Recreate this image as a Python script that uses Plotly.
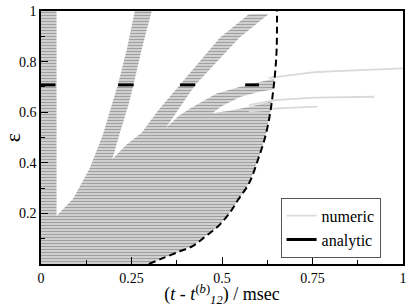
import plotly.graph_objects as go

# ---------------- data ----------------
# outline of the grey "numeric" region (x = t - t12 in msec, y = epsilon)
numeric_region_x = [0, 0, 0.043, 0.043,
                    0.089, 0.134, 0.170, 0.197, 0.213, 0.237, 0.259,
                    0.306,
                    0.278, 0.256, 0.243, 0.218, 0.197,
                    0.235, 0.278, 0.324, 0.383, 0.44, 0.494, 0.575,
                    0.629,
                    0.548, 0.488, 0.426, 0.378, 0.345,
                    0.38, 0.413, 0.485, 0.548, 0.602, 0.645,
                    0.641, 0.60, 0.55, 0.50, 0.473,
                    0.52, 0.57, 0.61, 0.637,
                    0.633, 0.62, 0.60, 0.575, 0.545, 0.52, 0.49, 0.455, 0.42, 0.38, 0.335, 0.298]
numeric_region_y = [0, 1, 1, 0.19,
                    0.259, 0.376, 0.507, 0.635, 0.712, 0.848, 1.0,
                    1.0,
                    0.848, 0.712, 0.635, 0.519, 0.414,
                    0.47, 0.519, 0.608, 0.708, 0.801, 0.894, 0.988,
                    0.988,
                    0.894, 0.801, 0.708, 0.608, 0.538,
                    0.585, 0.616, 0.674, 0.700, 0.718, 0.733,
                    0.69, 0.68, 0.66, 0.625, 0.596,
                    0.606, 0.62, 0.632, 0.642,
                    0.596, 0.506, 0.415, 0.32, 0.255, 0.2, 0.15, 0.11, 0.072, 0.048, 0.022, 0]

# thin numeric curves continuing to the right of the analytic boundary
numeric_curve1_x = [0.629, 0.647, 0.710, 0.755, 0.80, 0.89, 1.0]
numeric_curve1_y = [0.736, 0.739, 0.751, 0.758, 0.761, 0.767, 0.773]
numeric_curve2_x = [0.574, 0.629, 0.647, 0.755, 0.921]
numeric_curve2_y = [0.628, 0.645, 0.648, 0.658, 0.661]
numeric_curve3_x = [0.574, 0.629, 0.638, 0.700, 0.764]
numeric_curve3_y = [0.603, 0.609, 0.614, 0.619, 0.622]

# analytic results
analytic_eps = 0.708
analytic_seg_start = [0.0, 0.213, 0.384, 0.564]
analytic_seg_end = [0.040, 0.256, 0.426, 0.602]
analytic_curve_x = [0.298, 0.335, 0.38, 0.42, 0.455, 0.49, 0.52, 0.545, 0.575, 0.60,
                    0.62, 0.633, 0.641, 0.647, 0.651, 0.652]
analytic_curve_y = [0.0, 0.022, 0.048, 0.072, 0.11, 0.15, 0.2, 0.255, 0.32, 0.415,
                    0.506, 0.596, 0.68, 0.76, 0.85, 1.0]

x_ticks = [0, 0.25, 0.5, 0.75, 1]
x_ticklabels = ["0", "0.25", "0.5", "0.75", "1"]
x_minor = [0.125, 0.375, 0.625, 0.875]
y_ticks = [0.2, 0.4, 0.6, 0.8, 1]
y_ticklabels = ["0.2", "0.4", "0.6", "0.8", "1"]
y_minor = [0.1, 0.3, 0.5, 0.7, 0.9]

# ---------------- figure ----------------
SERIF = "Liberation Serif"
NUM_COLOR = "#d9d9d9"
TICKFONT = dict(family=SERIF, size=14, color="black")

fig = go.Figure()

fig.add_trace(go.Scatter(
    x=numeric_region_x, y=numeric_region_y, mode="lines", fill="toself",
    line=dict(width=0, color="rgba(0,0,0,0)"),
    fillcolor="#cfcfcf",
    fillpattern=dict(shape="-", fgcolor="#a0a0a0", bgcolor="#d0d0d0",
                     size=3, solidity=0.33, fillmode="replace"),
    showlegend=False, hoverinfo="skip"))

for i, (cx, cy) in enumerate([(numeric_curve1_x, numeric_curve1_y),
                              (numeric_curve2_x, numeric_curve2_y),
                              (numeric_curve3_x, numeric_curve3_y)]):
    fig.add_trace(go.Scatter(
        x=cx, y=cy, mode="lines", line=dict(color=NUM_COLOR, width=1.8),
        name="numeric", showlegend=(i == 0), legendgroup="numeric"))

seg_x, seg_y = [], []
for s, e in zip(analytic_seg_start, analytic_seg_end):
    seg_x += [s, e, None]
    seg_y += [analytic_eps, analytic_eps, None]
fig.add_trace(go.Scatter(x=seg_x, y=seg_y, mode="lines",
                         line=dict(color="black", width=3),
                         name="analytic", legendgroup="analytic"))
fig.add_trace(go.Scatter(x=analytic_curve_x, y=analytic_curve_y, mode="lines",
                         line=dict(color="black", width=2, dash="7px,4px", shape="spline"),
                         showlegend=False, legendgroup="analytic"))

fig.update_layout(
    width=411, height=307,
    margin=dict(l=37, r=4, t=6, b=43),
    paper_bgcolor="white", plot_bgcolor="white",
    font=dict(family=SERIF, color="black", size=14),
    legend=dict(x=0.938, xanchor="right", y=0.262, yanchor="top",
                bgcolor="white", bordercolor="#555", borderwidth=1,
                font=dict(family=SERIF, size=16, color="black"), itemwidth=30,
                tracegroupgap=0),
)
fig.update_xaxes(
    range=[0, 1], tickvals=x_ticks, ticktext=x_ticklabels, tickfont=TICKFONT,
    ticks="inside", ticklen=7, tickcolor="black", ticklabeloverflow="allow",
    showline=True, linecolor="black", linewidth=1.5, mirror=True,
    showgrid=False, zeroline=False,
    minor=dict(tickvals=x_minor, ticks="inside", ticklen=4, tickcolor="black", showgrid=False),
    title=dict(text="(<i>t</i> - <i>t</i><sup>(<i>b</i>)</sup><sub><i>12</i></sub>) / msec",
               font=dict(family=SERIF, size=18, color="black"), standoff=0),
)
fig.update_yaxes(
    range=[0, 1], tickvals=y_ticks, ticktext=y_ticklabels, tickfont=TICKFONT,
    ticks="inside", ticklen=7, tickcolor="black", ticklabeloverflow="allow",
    showline=True, linecolor="black", linewidth=1.5, mirror=True,
    showgrid=False, zeroline=False,
    minor=dict(tickvals=y_minor, ticks="inside", ticklen=4, tickcolor="black", showgrid=False),
    title=dict(text="ε", font=dict(family=SERIF, size=22, color="black"), standoff=0),
)

fig.write_html("out.html", post_script="document.body.style.margin='0';",
               config={"displayModeBar": False})
